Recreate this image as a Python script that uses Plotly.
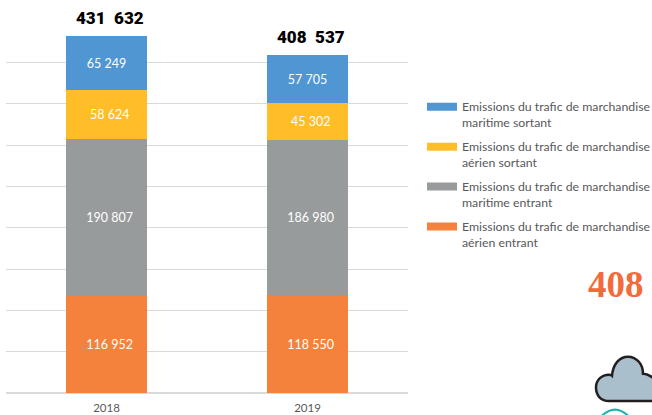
import plotly.graph_objects as go

years = ["2018", "2019"]
aerien_entrant = [116952, 118550]
maritime_entrant = [190807, 186980]
aerien_sortant = [58624, 45302]
maritime_sortant = [65249, 57705]
totals = [431632, 408537]
y_ticks = [0, 50000, 100000, 150000, 200000, 250000, 300000, 350000, 400000]

NAMES = {
    "ae": "Emissions du trafic de marchandise<br>aérien entrant",
    "me": "Emissions du trafic de marchandise<br>maritime entrant",
    "as": "Emissions du trafic de marchandise<br>aérien sortant",
    "ms": "Emissions du trafic de marchandise<br>maritime sortant",
}
COLORS = {"ae": "#F4823C", "me": "#989B9B", "as": "#FFBD27", "ms": "#4F96D2"}


def fmt(v):
    return f"{v:,}".replace(",", " ")


W, H = 652, 415
L, R, T, B = 6, 408, 20.7, 393.4


def px(x):
    return (x - L) / (R - L)


def py(y):
    return (B - y) / (B - T)


def path(cmds):
    out = []
    for c in cmds:
        op, pts = c[0], c[1:]
        out.append(op + " ".join(f"{px(a):.5f},{py(b):.5f}" for a, b in pts))
    return " ".join(out)


fig = go.Figure()

# Legend entries come first so that the groups are listed top to bottom as in the reference
for key in ["ms", "as", "me", "ae"]:
    fig.add_trace(go.Scatter(
        x=[None], y=[None], mode="lines", name=NAMES[key], legendgroup=key,
        line=dict(color=COLORS[key], width=8), hoverinfo="skip",
    ))

series = [("ae", aerien_entrant), ("me", maritime_entrant), ("as", aerien_sortant), ("ms", maritime_sortant)]
for key, vals in series:
    pad = "" if key == "ms" else "\u00a0\u00a0"
    fig.add_trace(go.Bar(
        x=years, y=vals, marker=dict(color=COLORS[key], line=dict(width=0)),
        text=[pad + fmt(v) for v in vals], textposition="inside", insidetextanchor="middle",
        textangle=0, constraintext="none",
        textfont=dict(family="Lato", size=12.5, color="white"),
        width=0.4, showlegend=False, legendgroup=key, hoverinfo="skip",
    ))

total_notes = [dict(
    x=i, y=tot, xref="x", yref="y", text=fmt(tot).replace(" ", "\u00a0\u00a0"),
    showarrow=False, xanchor="center", yanchor="bottom", yshift=6, xshift=3,
    font=dict(family="Roboto", size=17, color="#000000", weight=900),
) for i, tot in enumerate(totals)]

cloud = path([
    ("M", (609, 401.5)),
    ("C", (601, 401.5), (596, 396), (596, 388)),
    ("C", (596, 380), (602, 375), (609, 375)),
    ("C", (610, 375), (611, 375), (612, 376)),
    ("C", (613, 364), (620, 357), (628, 357)),
    ("C", (637, 357), (643, 365), (643, 374)),
    ("C", (648, 374), (652, 377), (656, 381)),
    ("L", (656, 401.5)),
    ("Z",),
])
arc = path([("M", (601, 417)), ("Q", (615, 403), (629, 417))])
mark = path([("M", (505, -1)), ("L", (509, -1), (509, 1), (505, 1)), ("Z",)])

fig.update_layout(
    width=W, height=H, autosize=False,
    margin=dict(l=L, r=W - R, t=T, b=H - B, autoexpand=False),
    paper_bgcolor="white", plot_bgcolor="white",
    barmode="stack", bargap=0.6,
    font=dict(family="Lato", color="#58595B"),
    xaxis=dict(type="category", categoryorder="array", categoryarray=years,
               showgrid=False, zeroline=False, showline=False, ticks="",
               tickfont=dict(family="Lato", size=11.5, color="#58595B"), ticklabelstandoff=6,
               range=[-0.5, 1.5]),
    yaxis=dict(range=[0, 450000], tickvals=y_ticks, showticklabels=False, ticks="",
               showgrid=True, gridcolor="#D9D9D9", gridwidth=1, zeroline=True,
               zerolinecolor="#D9D9D9", zerolinewidth=1.5, showline=False),
    legend=dict(x=px(422), xanchor="left", y=py(92), yanchor="top", bgcolor="rgba(0,0,0,0)",
                font=dict(family="Lato", size=12.3, color="#58595B"), traceorder="grouped",
                tracegroupgap=5, itemwidth=30, valign="top",
                itemclick=False, itemdoubleclick=False),
    annotations=total_notes + [dict(
        text="<b>408</b>", xref="paper", yref="paper", x=px(615.5), y=py(285),
        xanchor="center", yanchor="middle", showarrow=False,
        font=dict(family="Liberation Serif", size=37, color="#F26B3A"),
    )],
    shapes=[
        dict(type="path", xref="paper", yref="paper", path=cloud, fillcolor="#A9BFCB",
             line=dict(color="#231F20", width=2.5)),
        dict(type="path", xref="paper", yref="paper", path=arc, line=dict(color="#1FB5AD", width=2.2)),
        dict(type="path", xref="paper", yref="paper", path=mark, fillcolor="#C85AB4", line=dict(width=0)),
    ],
)

fig.write_html("out.html", config=dict(displayModeBar=False),
               post_script="document.body.style.margin='0';document.body.style.overflow='hidden';")
